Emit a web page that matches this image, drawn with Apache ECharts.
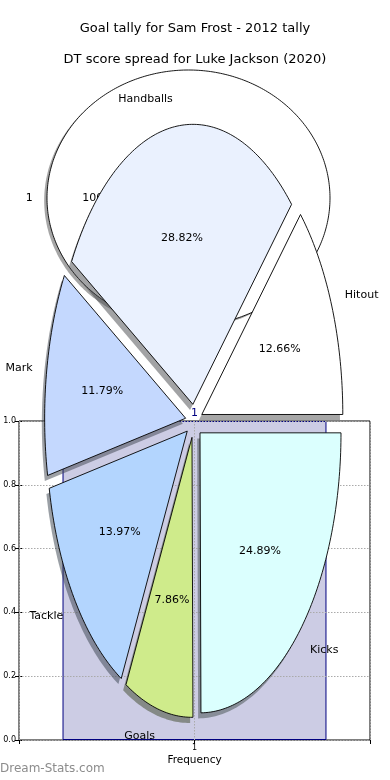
<!DOCTYPE html>
<html>
<head>
<meta charset="utf-8">
<script src="https://cdn.jsdelivr.net/npm/echarts@6/dist/echarts.min.js"></script>
<style>
html,body{margin:0;padding:0;background:#fff;}
#chart{width:390px;height:780px;}
</style>
</head>
<body>
<div id="chart"></div>
<script>
// ---- data ----
const titleTexts = ['Goal tally for Sam Frost - 2012 tally', 'DT score spread for Luke Jackson (2020)'];
const tallyCategories = ['1'];
const tallyValues = [1];
const dtCategories = ['Hitout', 'Handballs', 'Mark', 'Tackle', 'Goals', 'Kicks'];
const dtValues = [12.66, 28.82, 11.79, 13.97, 7.86, 24.89];
const freqCategories = ['1'];
const freqValues = [1];
const yTickLabels = ['0.0', '0.2', '0.4', '0.6', '0.8', '1.0'];

// ---- styles ----
const FONT = '"DejaVu Sans", sans-serif';
const tallyColors = ['#ffffff'];
const dtColors = ['#ffffff', '#eaf1fe', '#c4d8fe', '#b3d5fe', '#cfeb8b', '#dbfffe'];

function shadowOf(hex) {
  const r = parseInt(hex.slice(1, 3), 16), g = parseInt(hex.slice(3, 5), 16), b = parseInt(hex.slice(5, 7), 16);
  return 'rgba(' + Math.round(r * 0.3) + ',' + Math.round(g * 0.3) + ',' + Math.round(b * 0.3) + ',0.5)';
}

function pieRenderer(values, names, colors, explode, labelDist, pctDist) {
  const total = values.reduce((a, b) => a + b, 0);
  const starts = [];
  let acc = 0;
  values.forEach(v => { starts.push(acc); acc += v; });
  return function (params, api) {
    const i = params.dataIndex;
    const v = api.value(0);
    const a0 = starts[i] / total * 360;
    const span = v / total * 360;
    const a1 = a0 + span;
    const am = (a0 + a1) / 2 * Math.PI / 180;
    const ox = explode * Math.cos(am), oy = explode * Math.sin(am);
    const full = span >= 359.999;
    function poly(cx, cy) {
      const pts = full ? [] : [api.coord([cx, cy])];
      const n = Math.max(4, Math.ceil(span / 1));
      for (let k = 0; k <= n; k++) {
        const t = (a0 + span * k / n) * Math.PI / 180;
        pts.push(api.coord([cx + Math.cos(t), cy + Math.sin(t)]));
      }
      return pts;
    }
    const lp = api.coord([ox + labelDist * Math.cos(am), oy + labelDist * Math.sin(am)]);
    const pp = api.coord([ox + pctDist * Math.cos(am), oy + pctDist * Math.sin(am)]);
    const pct = (v / total * 100).toFixed(i >= 0 && full ? 0 : 2) + '%';
    return {
      type: 'group',
      children: [
        { type: 'polygon', z2: 0, shape: { points: poly(ox - 0.02, oy - 0.02) }, style: { fill: shadowOf(colors[i]) } },
        { type: 'polygon', z2: 1, shape: { points: poly(ox, oy) }, style: { fill: colors[i], stroke: '#000', lineWidth: 0.9 } },
        { type: 'text', z2: 2, x: lp[0], y: lp[1], style: { text: names[i], fill: '#000', fontSize: 11, fontFamily: FONT, align: Math.cos(am) > 0 ? 'left' : 'right', verticalAlign: 'middle' } },
        { type: 'text', z2: 2, x: pp[0], y: pp[1], style: { text: pct, fill: '#000', fontSize: 11, fontFamily: FONT, align: 'center', verticalAlign: 'middle' } }
      ]
    };
  };
}

const dotted = { show: true, lineStyle: { color: '#aaaaaa', width: 1, type: [1.5, 1.5] } };
const hiddenAxis = (gi) => ({ type: 'value', gridIndex: gi, min: -1, max: 1, show: false, splitLine: { show: false } });

const chart = echarts.init(document.getElementById('chart'), null, { renderer: 'canvas' });
chart.setOption({
  animation: false,
  backgroundColor: '#ffffff',
  textStyle: { fontFamily: FONT },
  title: [
    { text: titleTexts[0], left: 'center', top: 22, padding: 0, textStyle: { fontSize: 13, fontWeight: 'normal', color: '#000', fontFamily: FONT } },
    { text: titleTexts[1], left: 'center', top: 53, padding: 0, textStyle: { fontSize: 13, fontWeight: 'normal', color: '#000', fontFamily: FONT } }
  ],
  graphic: [
    { type: 'text', left: 0, top: 763, z: 10, style: { text: 'Dream-Stats.com', fill: '#8c8c8c', fontSize: 12, fontFamily: FONT } }
  ],
  grid: [
    { left: 19, top: 421, width: 351, height: 319, show: true, borderColor: '#000', borderWidth: 1, backgroundColor: 'transparent', z: 0 },
    { left: 19, top: 421, width: 351, height: 319, show: false, z: 3 },
    { left: 47, top: 70, width: 283, height: 256, show: false },
    { left: 53, top: 141, width: 282, height: 560, show: false }
  ],
  xAxis: [
    {
      type: 'category', gridIndex: 0, data: freqCategories,
      axisLine: { show: false },
      axisTick: { show: true, inside: true, alignWithLabel: true, length: 4, lineStyle: { color: '#000' } },
      axisLabel: { fontSize: 8, color: '#000', margin: 4, fontFamily: FONT },
      splitLine: { show: false },
      name: 'Frequency', nameLocation: 'middle', nameGap: 15,
      nameTextStyle: { fontSize: 10.5, color: '#000', fontFamily: FONT }
    },
    {
      type: 'value', gridIndex: 1, min: 0, max: 2, interval: 1, position: 'top', z: 3,
      axisLine: { show: false }, axisLabel: { show: false },
      axisTick: { show: true, inside: true, length: 4, lineStyle: { color: '#000' } },
      splitLine: dotted
    },
    hiddenAxis(2),
    hiddenAxis(3)
  ],
  yAxis: [
    {
      type: 'value', gridIndex: 0, min: 0, max: 1, interval: 0.2,
      axisLine: { show: false },
      axisTick: { show: true, inside: true, length: 4, lineStyle: { color: '#000' } },
      axisLabel: { fontSize: 8, color: '#000', margin: 3, fontFamily: FONT, formatter: (v) => yTickLabels[Math.round(v / 0.2)] },
      splitLine: { show: false }
    },
    {
      type: 'value', gridIndex: 1, min: 0, max: 1, interval: 0.2, position: 'right', z: 3,
      axisLine: { show: false }, axisLabel: { show: false },
      axisTick: { show: true, inside: true, length: 4, lineStyle: { color: '#000' } },
      splitLine: dotted
    },
    hiddenAxis(2),
    hiddenAxis(3)
  ],
  series: [
    {
      type: 'bar', xAxisIndex: 0, yAxisIndex: 0, z: 2,
      data: freqValues, barWidth: '75.2%',
      itemStyle: { color: '#ccccе4'.replace('е', 'e'), borderColor: '#000080', borderWidth: 1 },
      label: { show: true, position: 'top', distance: 2, color: '#000080', fontSize: 11, fontFamily: FONT, formatter: '{c}' }
    },
    {
      type: 'custom', xAxisIndex: 2, yAxisIndex: 2, z: 1, silent: true,
      data: tallyValues.map((v, i) => ({ value: [v], name: tallyCategories[i] })),
      renderItem: pieRenderer(tallyValues, tallyCategories, tallyColors, 0, 1.1, 0.64)
    },
    {
      type: 'custom', xAxisIndex: 3, yAxisIndex: 3, z: 5, silent: true,
      data: dtValues.map((v, i) => ({ value: [v], name: dtCategories[i] })),
      renderItem: pieRenderer(dtValues, dtCategories, dtColors, 0.06, 1.1, 0.6)
    }
  ]
});
</script>
</body>
</html>
